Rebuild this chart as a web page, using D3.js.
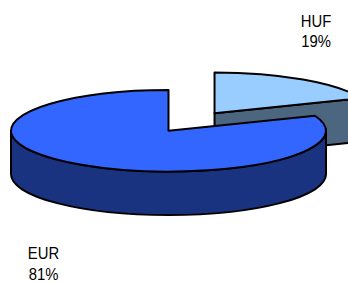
<!DOCTYPE html>
<html>
<head>
<meta charset="utf-8">
<script src="https://cdn.jsdelivr.net/npm/d3@7"></script>
<style>
  html, body { margin: 0; padding: 0; background: #fff; }
  svg { display: block; }
</style>
</head>
<body>
<svg id="chart" width="348" height="282"></svg>
<script>
// ---- data ----
const categories = ["HUF", "EUR"];
const values = [19, 81];
const percentLabels = ["19%", "81%"];
const exploded = [true, false];

// ---- colours ----
const topColors = ["#99CCFF", "#3366FF"];
const sideColors = ["#4D6680", "#1A3380"];

// ---- geometry ----
const W = 348, H = 282;
const cx = 168.5, cy = 130.8, rx = 157.5, ry = 40.8, depth = 43.5;
const explodeFrac = 0.52;

const svg = d3.select("#chart");

const pie = d3.pie().sort(null).startAngle(0).endAngle(2 * Math.PI);
const arcs = pie(values);

function pt(c, a, dz) {
  return [c[0] + rx * Math.sin(a), c[1] - ry * Math.cos(a) + (dz || 0)];
}

function topPath(c, a0, a1) {
  const p0 = pt(c, a0), p1 = pt(c, a1);
  const large = (a1 - a0) > Math.PI ? 1 : 0;
  return `M${c[0]},${c[1]}L${p0[0]},${p0[1]}A${rx},${ry} 0 ${large} 1 ${p1[0]},${p1[1]}Z`;
}

function wallPath(c, a0, a1) {
  const s = Math.max(a0, Math.PI / 2), e = Math.min(a1, 3 * Math.PI / 2);
  if (e <= s) return null;
  const p0 = pt(c, s), p1 = pt(c, e);
  const b0 = pt(c, s, depth), b1 = pt(c, e, depth);
  const large = (e - s) > Math.PI ? 1 : 0;
  return `M${p0[0]},${p0[1]}A${rx},${ry} 0 ${large} 1 ${p1[0]},${p1[1]}` +
         `L${b1[0]},${b1[1]}A${rx},${ry} 0 ${large} 0 ${b0[0]},${b0[1]}Z`;
}

function cutFace(c, a) {
  const p = pt(c, a);
  return `M${c[0]},${c[1]}L${p[0]},${p[1]}L${p[0]},${p[1] + depth}L${c[0]},${c[1] + depth}Z`;
}

const g = svg.append("g")
  .attr("stroke", "#000")
  .attr("stroke-width", 2)
  .attr("stroke-linejoin", "round");

const centres = arcs.map((d, i) => {
  if (!exploded[i]) return [cx, cy];
  const mid = (d.startAngle + d.endAngle) / 2;
  return [cx + explodeFrac * rx * Math.sin(mid), cy - explodeFrac * ry * Math.cos(mid)];
});

arcs.forEach((d, i) => {
  const c = centres[i];
  const slice = g.append("g").attr("class", "slice-" + categories[i]);
  if (d.endAngle > 0 && d.endAngle < Math.PI) {
    slice.append("path").attr("d", cutFace(c, d.endAngle)).attr("fill", sideColors[i]);
  }
  const w = wallPath(c, d.startAngle, d.endAngle);
  if (w) slice.append("path").attr("d", w).attr("fill", sideColors[i]);
  slice.append("path").attr("d", topPath(c, d.startAngle, d.endAngle)).attr("fill", topColors[i]);
});

// labels
const labelPos = { HUF: [316, 26.7], EUR: [43.5, 259] };
const font = "'Liberation Sans', Arial, sans-serif";
categories.forEach((cat, i) => {
  const [x, y] = labelPos[cat];
  const t = svg.append("text")
    .attr("transform", `translate(${x},${y}) scale(0.9,1)`)
    .attr("text-anchor", "middle")
    .attr("font-family", font)
    .attr("font-size", 16.5)
    .attr("fill", "#000");
  t.append("tspan").attr("x", 0).attr("y", 0).text(cat);
  t.append("tspan").attr("x", 0).attr("y", 20.8).text(percentLabels[i]);
});
</script>
</body>
</html>
